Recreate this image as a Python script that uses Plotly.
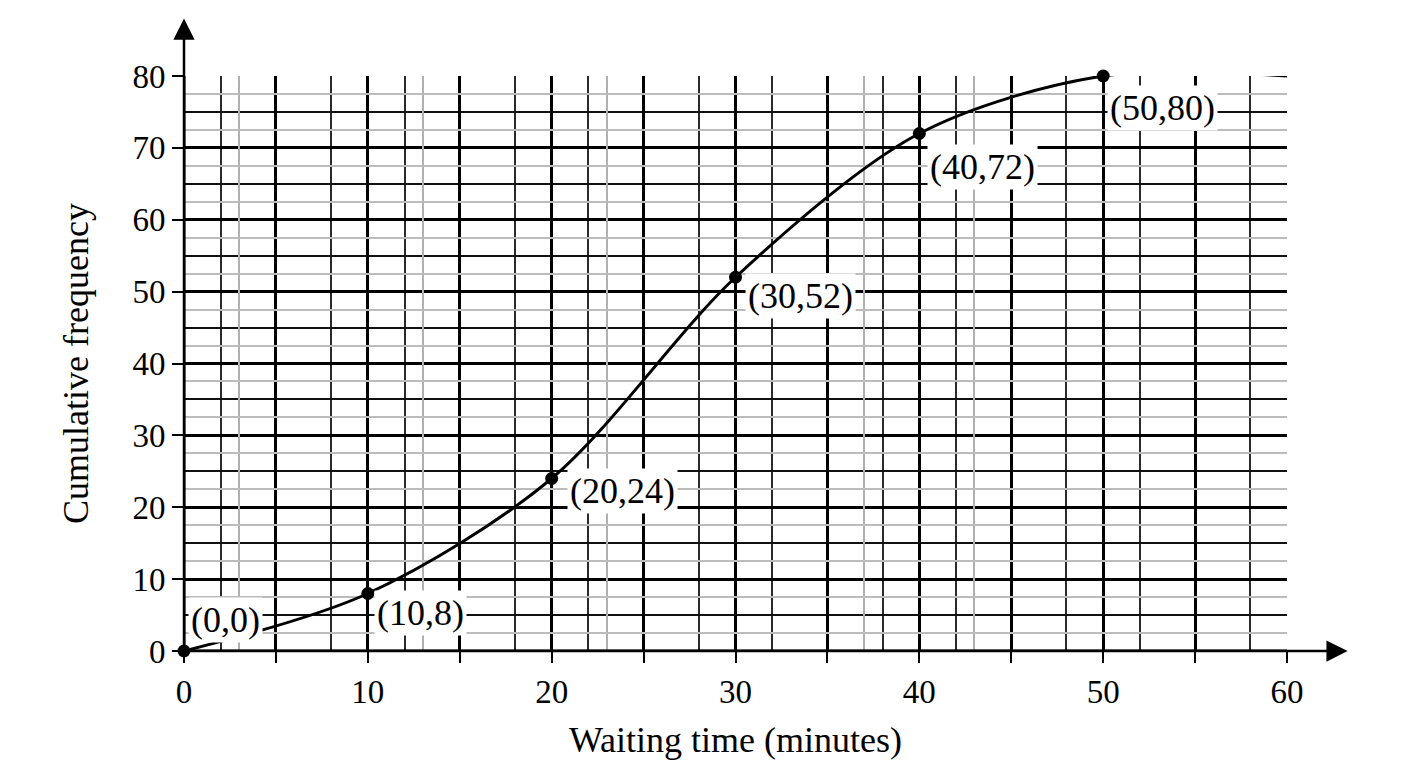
import plotly.graph_objects as go

# cumulative frequency data
wait_time = [0, 10, 20, 30, 40, 50, 60]
cum_freq = [0, 8, 24, 52, 72, 80, 80]
point_labels = ["(0,0)", "(10,8)", "(20,24)", "(30,52)", "(40,72)", "(50,80)"]
# pixel offsets of each label from its point
label_dx = [4, 6, 15, 9, 8, 4]
label_dy = [31, -19, -12, -19, -33, -32]

x_major = list(range(0, 61, 5))
x_minor_dark = [d + o for d in range(0, 60, 10) for o in (2, 8)]
x_minor_gray = [3, 13, 23, 37, 43]
y_minor_gray = [v + 2.5 for v in range(0, 80, 5)]

FONT = "Liberation Serif"

fig = go.Figure()

# invisible trace to activate the secondary grid axes
fig.add_trace(go.Scatter(x=[0], y=[0], xaxis="x2", yaxis="y2", mode="markers",
                         marker=dict(opacity=0), hoverinfo="skip", showlegend=False))

# curve
fig.add_trace(go.Scatter(
    x=wait_time, y=cum_freq, mode="lines", cliponaxis=False,
    line=dict(color="black", width=3, shape="spline", smoothing=0.9),
    hoverinfo="skip", showlegend=False
))
# plotted points (not the end one)
fig.add_trace(go.Scatter(
    x=wait_time[:6], y=cum_freq[:6], mode="markers", cliponaxis=False,
    marker=dict(color="black", size=13),
    showlegend=False
))

for xv, yv, txt, dx, dy in zip(wait_time, cum_freq, point_labels, label_dx, label_dy):
    fig.add_annotation(
        x=xv, y=yv, text=txt, showarrow=False,
        xanchor="left", yanchor="middle", xshift=dx, yshift=dy,
        bgcolor="white", borderpad=2,
        font=dict(family=FONT, size=36, color="black")
    )

# axis arrows
fig.add_annotation(x=1.055, y=0, xref="x domain", yref="y",
                   ax=0, ay=0, axref="x domain", ayref="y",
                   showarrow=True, arrowhead=2, arrowsize=1.7, arrowwidth=2.5,
                   arrowcolor="black", text="")
fig.add_annotation(x=0, y=1.1, xref="x", yref="y domain",
                   ax=0, ay=0, axref="x", ayref="y domain",
                   showarrow=True, arrowhead=2, arrowsize=1.7, arrowwidth=2.5,
                   arrowcolor="black", text="")

fig.update_layout(
    width=1408, height=768,
    margin=dict(l=176, r=129, t=68, b=125),
    plot_bgcolor="white", paper_bgcolor="white",
    font=dict(family=FONT, size=32, color="black"),
    xaxis=dict(
        range=[0, 60], tickvals=x_major,
        ticktext=[str(v) if v % 10 == 0 else "" for v in x_major],
        showgrid=True, gridcolor="black", gridwidth=2.6,
        minor=dict(tickvals=x_minor_dark, showgrid=True, gridcolor="#2a2a2a",
                   gridwidth=1.6, ticks=""),
        ticks="outside", ticklen=11, tickwidth=2, tickcolor="black",
        showline=False, zeroline=False, fixedrange=True,
        title=dict(text="Waiting time (minutes)", font=dict(size=36), standoff=18),
        tickfont=dict(size=33),
    ),
    yaxis=dict(
        range=[0, 80], dtick=10, tick0=0,
        showgrid=True, gridcolor="black", gridwidth=2.6,
        minor=dict(dtick=5, showgrid=True, gridcolor="#111111", gridwidth=2.2, ticks=""),
        ticks="outside", ticklen=11, tickwidth=2, tickcolor="black",
        showline=False, zeroline=False, fixedrange=True,
        title=dict(text="Cumulative frequency", font=dict(size=36), standoff=32),
        tickfont=dict(size=33),
    ),
    xaxis2=dict(overlaying="x", range=[0, 60], showgrid=True,
                tickvals=x_minor_gray, showticklabels=False,
                gridcolor="#b0b0b0", gridwidth=1.6, zeroline=False, ticks=""),
    yaxis2=dict(overlaying="y", range=[0, 80], showgrid=True,
                tickvals=y_minor_gray, showticklabels=False,
                gridcolor="#bcbcbc", gridwidth=1.5, zeroline=False, ticks=""),
)

# axis lines drawn through the origin
fig.add_shape(type="line", xref="x", yref="y", x0=0, x1=60, y0=0, y1=0,
              line=dict(color="black", width=3))
fig.add_shape(type="line", xref="x", yref="y", x0=0, x1=0, y0=0, y1=80,
              line=dict(color="black", width=3))

fig.write_html("out.html")
